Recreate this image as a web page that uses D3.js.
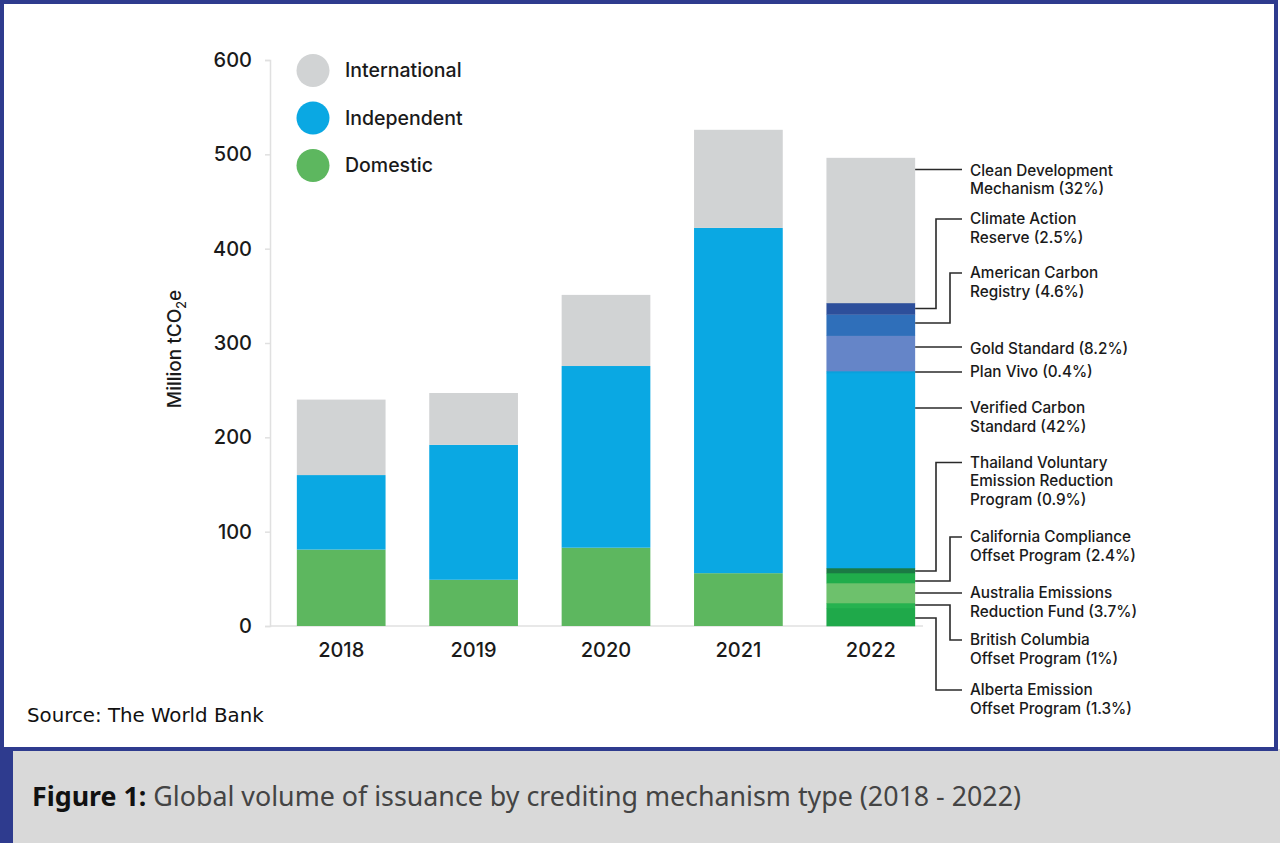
<!DOCTYPE html>
<html><head><meta charset="utf-8">
<script src="https://cdn.jsdelivr.net/npm/d3@7"></script>
<style>
html,body{margin:0;padding:0;background:#fff;}
svg{display:block;}
</style></head>
<body>
<svg id="c" width="1280" height="843"></svg>
<script>
// ---- data ----
const years = ["2018","2019","2020","2021"];
const international = [80, 55, 75.4, 104];
const independent = [79, 143, 192.6, 366];
const domestic = [81, 49, 83, 56];
const seriesNames = ["International","Independent","Domestic"];

const year2022 = "2022";
const programs2022 = ["Alberta Emission|Offset Program (1.3%)","British Columbia|Offset Program (1%)","Australia Emissions|Reduction Fund (3.7%)","California Compliance|Offset Program (2.4%)","Thailand Voluntary|Emission Reduction|Program (0.9%)","Verified Carbon|Standard (42%)","Plan Vivo (0.4%)","Gold Standard (8.2%)","American Carbon|Registry (4.6%)","Climate Action|Reserve (2.5%)","Clean Development|Mechanism (32%)"];
const values2022 = [19.1, 5.3, 21.2, 10.6, 5.3, 206.8, 2, 37.5, 22.5, 12.2, 153.8];
const yTicks = [0,100,200,300,400,500,600];

// ---- styles / layout ----
const seriesColors = {International:"#d1d3d4", Independent:"#0aa8e3", Domestic:"#5db75f"};
const colors2022 = ["#1fa94a","#26b24f","#6dc16c","#20ad4b","#1b7a44","#0aa8e3","#0aa0dc","#6585c8","#2f6fba","#2d4f9b","#d1d3d4"];
// leader anchor y on bar edge, label first-line centre y, elbow x (null = straight)
const leader = [
  {ay:618, ly:690, ex:936},
  {ay:605, ly:640, ex:950},
  {ay:593, ly:593, ex:null},
  {ay:581, ly:537, ex:950},
  {ay:571, ly:462.5, ex:936},
  {ay:408, ly:408, ex:null},
  {ay:372, ly:372, ex:null},
  {ay:347, ly:349, ex:null},
  {ay:323, ly:273, ex:950},
  {ay:308.5, ly:219, ex:936},
  {ay:169.5, ly:170.5, ex:null}
];

const svg = d3.select("#c");
const font = "Inter, 'Helvetica Neue', Arial, sans-serif";

// frame
svg.append("rect").attr("x",0).attr("y",0).attr("width",1280).attr("height",843).attr("fill","#fff");
svg.append("rect").attr("x",13).attr("y",749).attr("width",1267).attr("height",94).attr("fill","#d9d9d9");
svg.append("rect").attr("x",0).attr("y",749).attr("width",13).attr("height",94).attr("fill","#2e3b8e");
svg.append("rect").attr("x",2).attr("y",2).attr("width",1274).attr("height",747)
  .attr("fill","none").attr("stroke","#2e3b8e").attr("stroke-width",4);

const y = d3.scaleLinear().domain([0,600]).range([626,60]);
const allYears = years.concat([year2022]);
const x = d3.scaleBand().domain(allYears).range([275,937]).paddingInner(0.33).paddingOuter(0.165);

// axes
const yAxis = svg.append("g").attr("transform","translate(270,0)")
  .call(d3.axisLeft(y).tickValues(yTicks).tickSize(5).tickPadding(13));
yAxis.select(".domain").attr("stroke","#e0e0e0").attr("stroke-width",1.5);
yAxis.selectAll(".tick line").attr("stroke","#e0e0e0").attr("stroke-width",1.5);
yAxis.selectAll(".tick text").attr("font-family",font).attr("font-size",20).attr("font-weight",500).attr("fill","#1a1a1a");

svg.append("line").attr("x1",270).attr("x2",923).attr("y1",y(0)).attr("y2",y(0))
  .attr("stroke","#e0e0e0").attr("stroke-width",1.5);

// stacked bars 2018-2021
const rows = years.map((yr,i)=>({year:yr, Domestic:domestic[i], Independent:independent[i], International:international[i]}));
const stack = d3.stack().keys(["Domestic","Independent","International"])(rows);
svg.append("g").selectAll("g").data(stack).join("g")
  .attr("fill",d=>seriesColors[d.key])
  .selectAll("rect").data(d=>d).join("rect")
  .attr("x",d=>x(d.data.year)).attr("width",x.bandwidth())
  .attr("y",d=>y(d[1])).attr("height",d=>y(d[0])-y(d[1]));

// 2022 breakdown
let cum = 0;
const seg2022 = values2022.map((v,i)=>{const s={i, y0:cum, y1:cum+v}; cum+=v; return s;});
svg.append("g").selectAll("rect").data(seg2022).join("rect")
  .attr("x",x(year2022)).attr("width",x.bandwidth())
  .attr("y",d=>y(d.y1)).attr("height",d=>y(d.y0)-y(d.y1)+0.3)
  .attr("fill",d=>colors2022[d.i]);

// x labels
svg.append("g").selectAll("text").data(allYears).join("text")
  .attr("x",d=>x(d)+x.bandwidth()/2).attr("y",650).attr("dy","0.35em")
  .attr("text-anchor","middle").attr("font-family",font).attr("font-size",20).attr("font-weight",500)
  .attr("fill","#1a1a1a").text(d=>d);

// y label
const yl = svg.append("text").attr("transform","translate(181,349) rotate(-90)")
  .attr("text-anchor","middle").attr("font-family",font).attr("font-size",19).attr("font-weight",500).attr("fill","#1a1a1a");
yl.append("tspan").text("Million tCO");
yl.append("tspan").attr("font-size",12.5).attr("dy",5).text("2");
yl.append("tspan").attr("dy",-5).text("e");

// legend
const leg = svg.append("g").selectAll("g").data(seriesNames).join("g")
  .attr("transform",(d,i)=>`translate(313,${70.5+i*47.5})`);
leg.append("circle").attr("r",16.5).attr("fill",d=>seriesColors[d]);
leg.append("text").attr("x",32).attr("dy","0.35em").attr("font-family",font).attr("font-size",19.5).attr("font-weight",500)
  .attr("fill","#1a1a1a").text(d=>d);

// leaders + labels
const barRight = x(year2022)+x.bandwidth();
const lg = svg.append("g");
leader.forEach((L,i)=>{
  let pts;
  if(L.ex===null) pts=[[barRight,L.ay],[962,L.ay]];
  else pts=[[barRight,L.ay],[L.ex,L.ay],[L.ex,L.ly],[962,L.ly]];
  lg.append("path").attr("d",d3.line()(pts)).attr("fill","none").attr("stroke","#2a2a2a").attr("stroke-width",1.6);
  const lines = programs2022[i].split("|");
  const t = lg.append("text").attr("font-family",font).attr("font-size",15.3).attr("font-weight",500).attr("fill","#1a1a1a");
  lines.forEach((ln,j)=>t.append("tspan").attr("x",970).attr("y",L.ly+j*18.6).attr("dy","0.35em").text(ln));
});

// source
svg.append("text").attr("x",27).attr("y",715).attr("dy","0.35em").attr("font-family","'DejaVu Sans', sans-serif")
  .attr("font-size",19.8).attr("fill","#111").text("Source: The World Bank");

// caption
const cap = svg.append("text").attr("x",32).attr("y",797).attr("dy","0.35em").attr("font-family","'Noto Sans', 'Open Sans', sans-serif").attr("font-size",26.8);
cap.append("tspan").attr("font-weight",700).attr("fill","#111").text("Figure 1:");
cap.append("tspan").attr("fill","#444").text(" Global volume of issuance by crediting mechanism type (2018 - 2022)");
</script>
</body></html>
